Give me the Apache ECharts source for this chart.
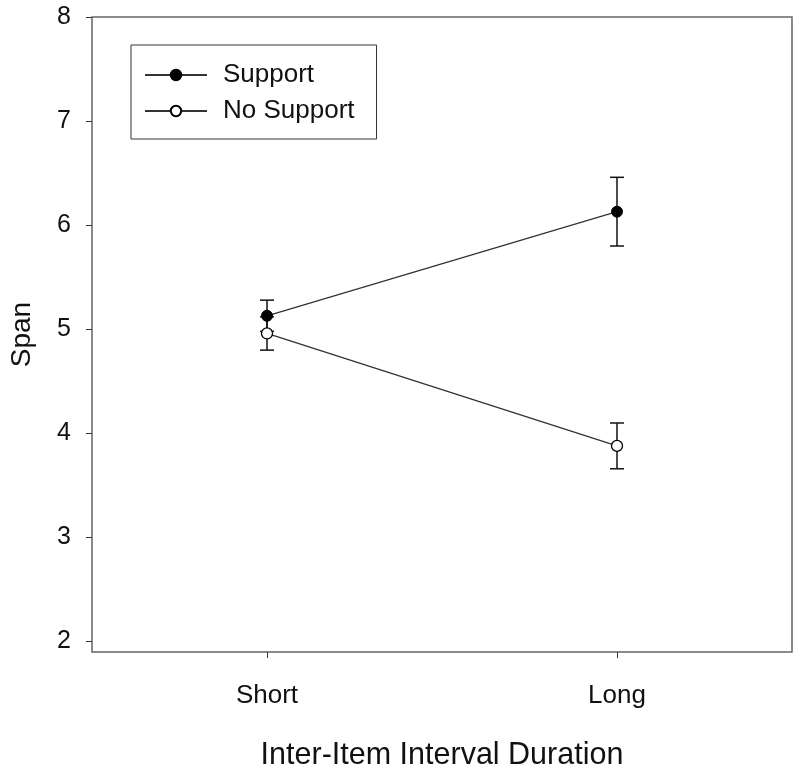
<!DOCTYPE html>
<html>
<head>
<meta charset="utf-8">
<script src="https://cdn.jsdelivr.net/npm/echarts@6/dist/echarts.min.js"></script>
<style>
  html, body { margin: 0; padding: 0; background: #fff; }
  #chart { width: 800px; height: 781px; }
</style>
</head>
<body>
<div id="chart"></div>
<script>
// data
const categories = ['Short', 'Long']
const supportMean = [5.13, 6.13]
const supportErr = [0.15, 0.33]
const noSupportMean = [4.96, 3.88]
const noSupportErr = [0.16, 0.22]
const yTicks = [2, 3, 4, 5, 6, 7, 8]

const FONT = 'Liberation Sans, Arial, sans-serif'

const chart = echarts.init(document.getElementById('chart'))

// error bar rows: [categoryIndex, low, high]
function errRows (mean, err) {
  return mean.map((m, i) => [i, m - err[i], m + err[i]])
}

function renderErrorBar (params, api) {
  const x = api.value(0)
  const lo = api.coord([x, api.value(1)])
  const hi = api.coord([x, api.value(2)])
  const half = 7
  const style = { stroke: '#111', lineWidth: 1.5 }
  return {
    type: 'group',
    children: [
      { type: 'line', shape: { x1: lo[0], y1: lo[1], x2: hi[0], y2: hi[1] }, style },
      { type: 'line', shape: { x1: lo[0] - half, y1: lo[1], x2: lo[0] + half, y2: lo[1] }, style },
      { type: 'line', shape: { x1: hi[0] - half, y1: hi[1], x2: hi[0] + half, y2: hi[1] }, style }
    ]
  }
}

const option = {
  animation: false,
  grid: {
    left: 91,
    right: 8,
    top: 17,
    bottom: 129,
    show: true,
    borderColor: '#666',
    borderWidth: 1.5
  },
  legend: {
    orient: 'vertical',
    left: 131,
    top: 45,
    padding: [17, 22, 15, 13],
    borderColor: '#333',
    borderWidth: 1,
    itemWidth: 62,
    itemHeight: 13,
    itemGap: 10,
    data: ['Support', 'No Support'],
    textStyle: {
      fontFamily: FONT,
      fontSize: 26,
      lineHeight: 26,
      color: '#111',
      padding: [0, 0, 0, 11]
    }
  },
  xAxis: {
    type: 'category',
    data: categories,
    boundaryGap: true,
    name: 'Inter-Item Interval Duration',
    nameLocation: 'middle',
    nameGap: 88,
    nameTextStyle: { fontFamily: FONT, fontSize: 30.5, color: '#111' },
    axisLine: { show: false },
    axisTick: { show: true, alignWithLabel: true, length: 6, lineStyle: { color: '#333' } },
    axisLabel: { fontFamily: FONT, fontSize: 26, color: '#111', margin: 31 },
    splitLine: { show: false }
  },
  yAxis: {
    type: 'value',
    min: 1.9,
    max: 8,
    name: 'Span',
    nameLocation: 'middle',
    nameGap: 56,
    nameRotate: 90,
    nameTextStyle: { fontFamily: FONT, fontSize: 28, color: '#111' },
    axisLine: { show: false },
    axisTick: { show: true, length: 6, customValues: yTicks, lineStyle: { color: '#333' } },
    axisLabel: { fontFamily: FONT, fontSize: 25, color: '#111', margin: 21, customValues: yTicks },
    splitLine: { show: false }
  },
  series: [
    {
      type: 'custom',
      name: 'supportErr',
      renderItem: renderErrorBar,
      data: errRows(supportMean, supportErr),
      z: 1,
      silent: true
    },
    {
      type: 'custom',
      name: 'noSupportErr',
      renderItem: renderErrorBar,
      data: errRows(noSupportMean, noSupportErr),
      z: 1,
      silent: true
    },
    {
      name: 'Support',
      type: 'line',
      data: supportMean,
      symbol: 'circle',
      symbolSize: 11,
      lineStyle: { color: '#333', width: 1.3 },
      itemStyle: { color: '#000', borderColor: '#000', borderWidth: 1 },
      z: 3
    },
    {
      name: 'No Support',
      type: 'line',
      data: noSupportMean,
      symbol: 'circle',
      symbolSize: 11,
      lineStyle: { color: '#333', width: 1.3 },
      itemStyle: { color: '#fff', borderColor: '#000', borderWidth: 1.3 },
      z: 3
    }
  ]
}

chart.setOption(option)
</script>
</body>
</html>
